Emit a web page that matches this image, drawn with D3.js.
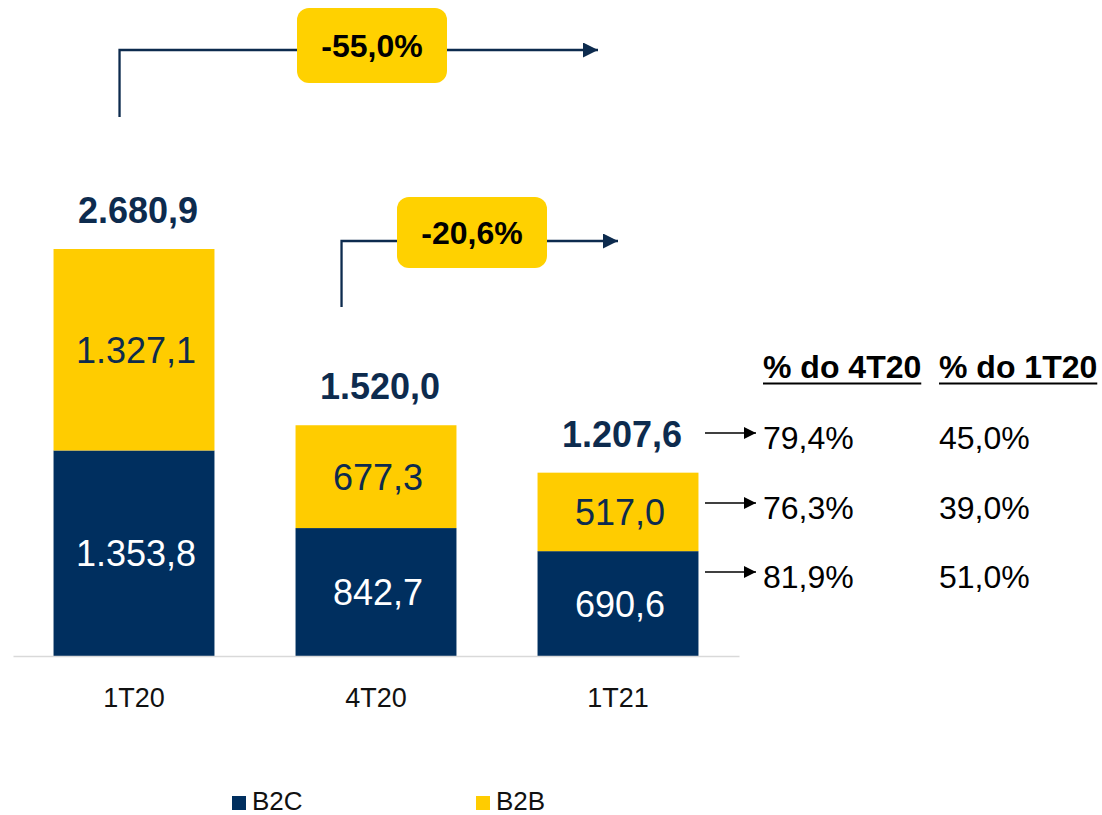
<!DOCTYPE html>
<html>
<head>
<meta charset="utf-8">
<script src="https://cdn.jsdelivr.net/npm/d3@7"></script>
<style>
  body { margin: 0; background: #fff; }
  text { font-family: "Liberation Sans", Arial, sans-serif; }
</style>
</head>
<body>
<svg id="chart" width="1102" height="815"></svg>
<script>
// dados
var categories = ["1T20", "4T20", "1T21"];
var b2c        = [1353.8, 842.7, 690.6];
var b2b        = [1327.1, 677.3, 517.0];
var totals     = [2680.9, 1520.0, 1207.6];
var seriesKeys = ["B2C", "B2B"];
var changes    = ["-55,0%", "-20,6%"];
var tableHead  = ["% do 4T20", "% do 1T20"];
var vs4T20     = ["79,4%", "76,3%", "81,9%"];
var vs1T20     = ["45,0%", "39,0%", "51,0%"];

var NAVY = "#002f5f", YELLOW = "#ffcc00", INK = "#0d2b4e";

var svg = d3.select("#chart");

var rows = categories.map(function(c, i) {
    return { cat: c, B2C: b2c[i], B2B: b2b[i], total: totals[i] };
});

var x = d3.scaleBand()
    .domain(categories)
    .range([13, 739])
    .paddingInner(0.335)
    .paddingOuter(0.1675);

var y = d3.scaleLinear()
    .domain([0, totals[0]])
    .range([656, 249]);

var colors = d3.scaleOrdinal().domain(seriesKeys).range([NAVY, YELLOW]);

var stacked = d3.stack().keys(seriesKeys)(rows);

// barras empilhadas
var layers = svg.selectAll("g.layer")
    .data(stacked)
    .enter().append("g")
    .attr("class", "layer")
    .attr("fill", function(d) { return colors(d.key); });

layers.selectAll("rect")
    .data(function(d) { return d; })
    .enter().append("rect")
    .attr("x", function(d) { return x(d.data.cat); })
    .attr("y", function(d) { return y(d[1]); })
    .attr("width", x.bandwidth())
    .attr("height", function(d) { return y(d[0]) - y(d[1]); });

// rótulos dos segmentos
var fmt = function(v) {
    return v.toLocaleString("pt-BR", { minimumFractionDigits: 1, maximumFractionDigits: 1 });
};

stacked.forEach(function(layer) {
    svg.selectAll(null)
        .data(layer)
        .enter().append("text")
        .attr("x", function(d) { return x(d.data.cat) + x.bandwidth() / 2 + 2; })
        .attr("y", function(d) { return (y(d[0]) + y(d[1])) / 2; })
        .attr("dy", "0.36em")
        .attr("text-anchor", "middle")
        .attr("font-size", 36)
        .attr("fill", layer.key === "B2C" ? "#fff" : INK)
        .text(function(d) { return fmt(d[1] - d[0]); });
});

// totais
svg.selectAll("text.total")
    .data(rows)
    .enter().append("text")
    .attr("class", "total")
    .attr("x", function(d) { return x(d.cat) + x.bandwidth() / 2 + 4; })
    .attr("y", function(d) { return y(d.total) - 26; })
    .attr("text-anchor", "middle")
    .attr("font-size", 36)
    .attr("font-weight", "bold")
    .attr("fill", INK)
    .text(function(d) { return fmt(d.total); });

// eixo x
var xAxis = svg.append("g")
    .attr("transform", "translate(0," + y(0) + ")")
    .call(d3.axisBottom(x).tickSize(0).tickPadding(32));
xAxis.select(".domain").attr("stroke", "#d9d9d9").attr("stroke-width", 1.5);
xAxis.selectAll(".tick text")
    .attr("font-size", 27)
    .attr("fill", "#111")
    .style("font-family", "'Liberation Sans', Arial, sans-serif");

// setas de variação
svg.append("defs").selectAll("marker")
    .data([["headNavy", INK, 15, 15], ["headBlack", "#000", 14, 12]])
    .enter().append("marker")
    .attr("id", function(d) { return d[0]; })
    .attr("markerUnits", "userSpaceOnUse")
    .attr("viewBox", "0 0 10 10")
    .attr("refX", 10).attr("refY", 5)
    .attr("markerWidth", function(d) { return d[2]; })
    .attr("markerHeight", function(d) { return d[3]; })
    .attr("orient", "auto")
    .append("path")
    .attr("d", "M0,0L10,5L0,10Z")
    .attr("fill", function(d) { return d[1]; });

var callouts = [
    { label: changes[0], x0: x(categories[0]) + 66, yBottom: 117, yLine: 50, xEnd: 598, boxX: 297, boxW: 150, boxY: 8, boxH: 75 },
    { label: changes[1], x0: x(categories[1]) + 46, yBottom: 307, yLine: 241, xEnd: 618, boxX: 397, boxW: 150, boxY: 197, boxH: 71 }
];

callouts.forEach(function(c) {
    svg.append("path")
        .attr("d", "M" + c.x0 + "," + c.yBottom + "V" + c.yLine + "H" + c.xEnd)
        .attr("fill", "none")
        .attr("stroke", INK)
        .attr("stroke-width", 2.3)
        .attr("marker-end", "url(#headNavy)");
    svg.append("rect")
        .attr("x", c.boxX).attr("y", c.boxY)
        .attr("width", c.boxW).attr("height", c.boxH)
        .attr("rx", 12)
        .attr("fill", "#ffd100");
    svg.append("text")
        .attr("x", c.boxX + c.boxW / 2)
        .attr("y", c.boxY + c.boxH / 2)
        .attr("dy", "0.36em")
        .attr("text-anchor", "middle")
        .attr("font-size", 32)
        .attr("font-weight", "bold")
        .attr("fill", "#000")
        .text(c.label);
});

// tabela à direita
var colX = [763, 939];
tableHead.forEach(function(h, i) {
    var t = svg.append("text")
        .attr("x", colX[i]).attr("y", 378)
        .attr("font-size", 32)
        .attr("font-weight", "bold")
        .attr("fill", "#000")
        .text(h);
    var w = t.node().getComputedTextLength();
    svg.append("line")
        .attr("x1", colX[i]).attr("x2", colX[i] + w)
        .attr("y1", 383.5).attr("y2", 383.5)
        .attr("stroke", "#000").attr("stroke-width", 2);
});

var rowY = [449, 519, 588];
rowY.forEach(function(ry, i) {
    svg.append("line")
        .attr("x1", 705).attr("x2", 756)
        .attr("y1", ry - 16).attr("y2", ry - 16)
        .attr("stroke", "#000").attr("stroke-width", 1.6)
        .attr("marker-end", "url(#headBlack)");
    svg.append("text")
        .attr("x", colX[0]).attr("y", ry)
        .attr("font-size", 32).attr("fill", "#000")
        .text(vs4T20[i]);
    svg.append("text")
        .attr("x", colX[1]).attr("y", ry)
        .attr("font-size", 32).attr("fill", "#000")
        .text(vs1T20[i]);
});

// legenda
var legend = svg.selectAll("g.legend")
    .data(seriesKeys)
    .enter().append("g")
    .attr("class", "legend")
    .attr("transform", function(d, i) { return "translate(" + (232 + i * 244) + ",796)"; });
legend.append("rect")
    .attr("width", 14).attr("height", 14)
    .attr("fill", function(d) { return colors(d); });
legend.append("text")
    .attr("x", 20).attr("y", 14)
    .attr("font-size", 26)
    .attr("fill", "#111")
    .text(function(d) { return d; });
</script>
</body>
</html>
